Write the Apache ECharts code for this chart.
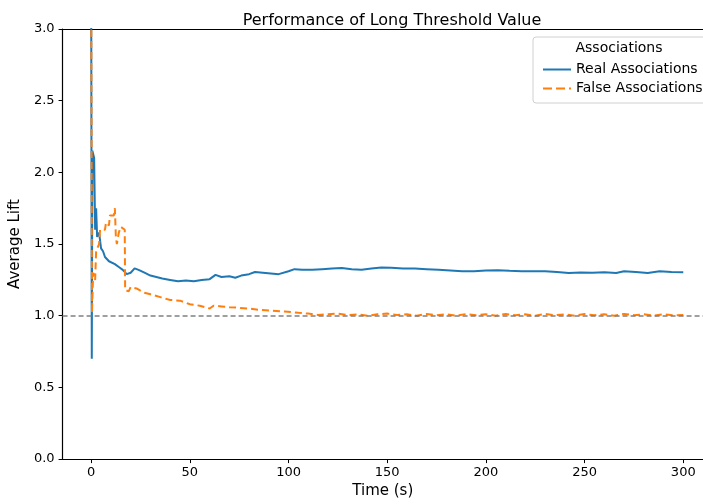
<!DOCTYPE html>
<html>
<head>
<meta charset="utf-8">
<script src="https://cdn.jsdelivr.net/npm/echarts@6/dist/echarts.min.js"></script>
<style>
  html, body { margin: 0; padding: 0; background: #fff; }
  #chart { width: 703px; height: 504px; }
</style>
</head>
<body>
<div id="chart"></div>
<script>
// 数据：时间 (s) 与平均提升度
const realTime = [0, 0.3, 0.6, 1.5, 2, 2.5, 3, 4, 5, 6, 7, 8, 9, 10, 12, 14, 16, 18, 20, 22, 24, 27, 30, 33, 36, 40, 44, 48, 52, 56, 60, 63, 66, 70, 73, 76, 80, 83, 87, 91, 95, 100, 103, 107, 112, 117, 122, 127, 132, 137, 142, 147, 152, 158, 164, 170, 176, 182, 188, 194, 200, 206, 212, 218, 224, 230, 236, 242, 248, 254, 260, 266, 270, 276, 282, 288, 294, 300];
const realLift = [3.3, 0.7, 2.15, 2.1, 1.6, 1.75, 1.55, 1.58, 1.47, 1.45, 1.41, 1.42, 1.38, 1.37, 1.36, 1.34, 1.32, 1.29, 1.3, 1.33, 1.32, 1.3, 1.28, 1.27, 1.26, 1.25, 1.24, 1.245, 1.24, 1.25, 1.255, 1.285, 1.27, 1.275, 1.265, 1.28, 1.29, 1.305, 1.3, 1.295, 1.29, 1.31, 1.325, 1.32, 1.32, 1.325, 1.33, 1.333, 1.325, 1.32, 1.33, 1.337, 1.335, 1.33, 1.33, 1.325, 1.32, 1.315, 1.31, 1.31, 1.315, 1.318, 1.313, 1.31, 1.31, 1.31, 1.305, 1.298, 1.302, 1.3, 1.303, 1.298, 1.31, 1.305, 1.298, 1.31, 1.305, 1.303];

const falseTime = [0, 0.4, 0.8, 1, 2, 2.5, 4, 4.5, 7, 7.5, 9, 9.5, 11.5, 12, 12.5, 13, 14, 15, 17, 17.2, 19, 20, 23, 27, 30, 35, 40, 45, 50, 55, 60, 62, 66, 70, 75, 80, 86, 92, 98, 105, 110, 115, 120, 125, 130, 135, 140, 145, 150, 155, 160, 165, 170, 175, 180, 185, 190, 195, 200, 205, 210, 215, 220, 225, 230, 235, 240, 245, 250, 255, 260, 265, 270, 275, 280, 285, 290, 295, 300];
const falseLift = [3.3, 1.02, 1.02, 1.3, 1.25, 1.45, 1.5, 1.6, 1.6, 1.65, 1.63, 1.7, 1.7, 1.75, 1.55, 1.5, 1.58, 1.62, 1.6, 1.18, 1.17, 1.2, 1.19, 1.16, 1.15, 1.13, 1.11, 1.105, 1.08, 1.07, 1.05, 1.07, 1.065, 1.06, 1.055, 1.05, 1.04, 1.035, 1.03, 1.02, 1.015, 1.005, 1.01, 1.015, 1.005, 1.01, 1.0, 1.01, 1.015, 1.005, 1.01, 1.0, 1.012, 1.003, 1.01, 1.0, 1.012, 1.004, 1.01, 1.0, 1.012, 1.003, 1.01, 1.0, 1.012, 1.004, 1.01, 1.0, 1.012, 1.003, 1.01, 1.0, 1.012, 1.004, 1.01, 1.0, 1.01, 1.003, 1.005];

const xTicks = [0, 50, 100, 150, 200, 250, 300];
const baseline = 1.0;

const font = 'DejaVu Sans';
const blue = '#1f77b4';
const orange = '#ff7f0e';
const chart = echarts.init(document.getElementById('chart'), null, { renderer: 'canvas' });

const pairs = (xs, ys) => xs.map((x, i) => [x, ys[i]]);

// 图例线条图标（实线 / 虚线）
const solidIcon = 'path://M0,0h28v2h-28z';
const dashIcon = 'path://M0,0h9v2h-9z M13,0h9v2h-9z M26,0h2v2h-2z';

const option = {
    animation: false,
    backgroundColor: '#fff',
    textStyle: { fontFamily: font },
    title: {
        text: 'Performance of Long Threshold Value',
        left: 387,
        top: 8,
        textAlign: 'center',
        textStyle: { fontFamily: font, fontSize: 16, fontWeight: 'normal', color: '#000' }
    },
    grid: { left: 61, top: 29, right: 0, bottom: 41 },
    legend: {
        orient: 'vertical',
        left: 538,
        top: 56,
        itemWidth: 28,
        itemHeight: 2,
        itemGap: 2,
        z: 5,
        textStyle: { fontFamily: font, fontSize: 14, color: '#000', lineHeight: 17 },
        data: [
            { name: 'Real Associations', icon: solidIcon },
            { name: 'False Associations', icon: dashIcon }
        ]
    },
    graphic: [
        {
            type: 'rect',
            z: 3,
            shape: { x: 533, y: 37, width: 190, height: 66, r: 3 },
            style: { fill: 'rgba(255,255,255,0.8)', stroke: '#d0d0d0', lineWidth: 1 }
        },
        {
            type: 'text',
            z: 4,
            style: {
                text: 'Associations', x: 619, y: 48,
                textAlign: 'center', textVerticalAlign: 'middle',
                font: '14px "DejaVu Sans"', fill: '#000'
            }
        }
    ],
    xAxis: [
        {
            type: 'value',
            min: -14.5,
            max: 310,
            name: 'Time (s)',
            nameLocation: 'middle',
            nameGap: 23,
            nameTextStyle: { fontFamily: font, fontSize: 15, color: '#000' },
            axisLine: { show: true, onZero: false, lineStyle: { color: '#000', width: 1.2 } },
            axisTick: { show: true, length: 4, customValues: xTicks, lineStyle: { color: '#000' } },
            axisLabel: { customValues: xTicks, fontSize: 13, color: '#000', margin: 7, fontFamily: font },
            splitLine: { show: false }
        },
        {
            type: 'value',
            position: 'top',
            min: -14.5,
            max: 310,
            axisLine: { show: true, onZero: false, lineStyle: { color: '#000', width: 1.2 } },
            axisTick: { show: false },
            axisLabel: { show: false },
            splitLine: { show: false }
        }
    ],
    yAxis: {
        type: 'value',
        min: 0,
        max: 3,
        interval: 0.5,
        name: 'Average Lift',
        nameLocation: 'middle',
        nameGap: 33,
        nameTextStyle: { fontFamily: font, fontSize: 15, color: '#000' },
        axisLine: { show: true, onZero: false, lineStyle: { color: '#000', width: 1.2 } },
        axisTick: { show: true, length: 4, lineStyle: { color: '#000' } },
        axisLabel: {
            fontSize: 13, color: '#000', margin: 8, fontFamily: font,
            formatter: v => v.toFixed(1)
        },
        splitLine: { show: false }
    },
    series: [
        {
            name: 'Real Associations',
            type: 'line',
            data: pairs(realTime, realLift),
            symbol: 'none',
            lineStyle: { color: blue, width: 2 },
            itemStyle: { color: blue },
            z: 2,
            markLine: {
                silent: true,
                symbol: 'none',
                label: { show: false },
                lineStyle: { color: '#808080', type: [5, 3], width: 1.5 },
                data: [{ yAxis: baseline }]
            }
        },
        {
            name: 'False Associations',
            type: 'line',
            data: pairs(falseTime, falseLift),
            symbol: 'none',
            lineStyle: { color: orange, width: 2, type: [7, 4] },
            itemStyle: { color: orange },
            z: 3
        }
    ]
};

chart.setOption(option);
</script>
</body>
</html>
